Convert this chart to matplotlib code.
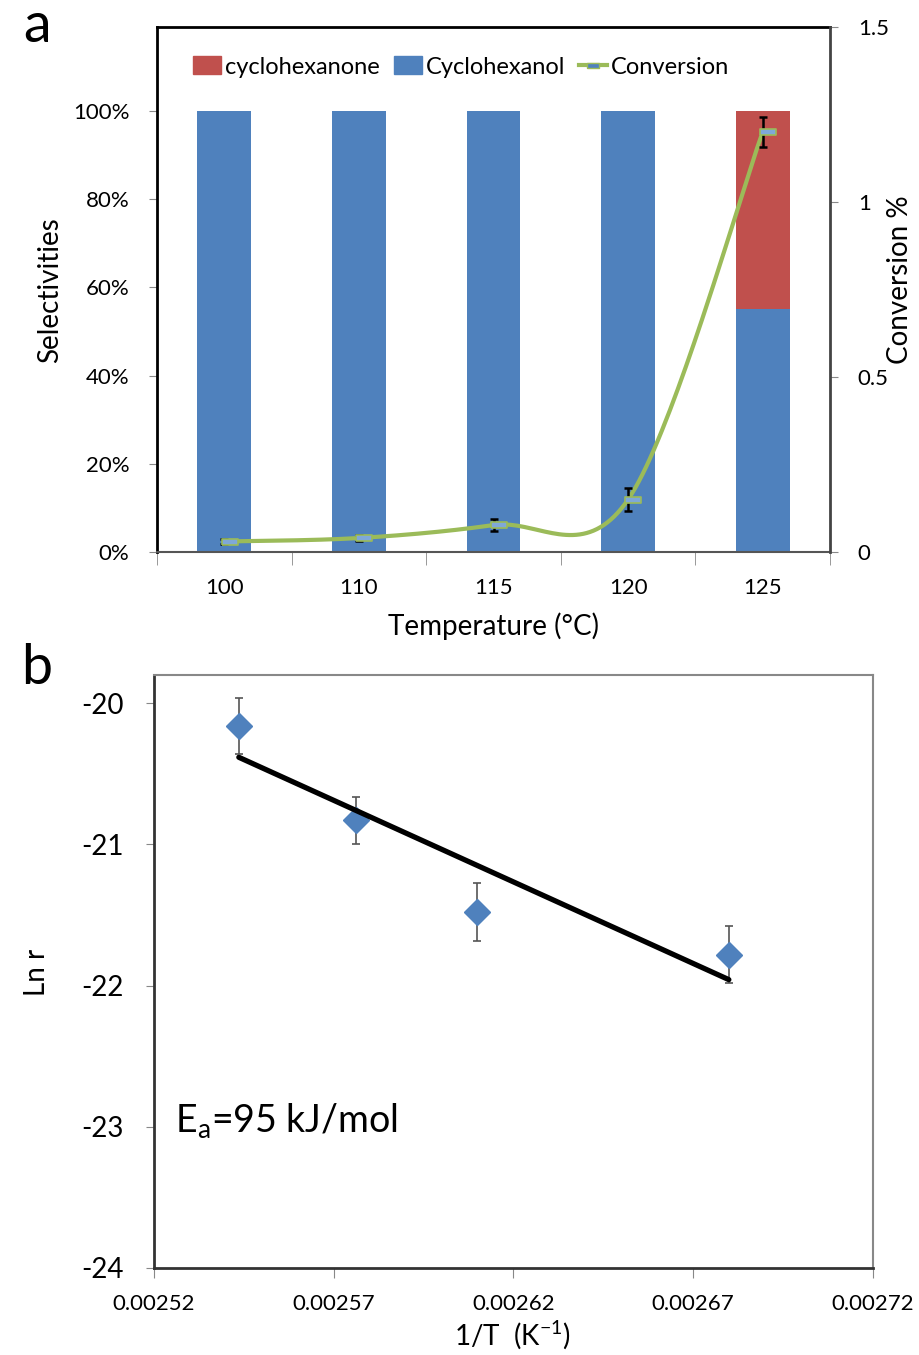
import numpy as np
import matplotlib
matplotlib.use("Agg")
import matplotlib.pyplot as plt
from matplotlib.patches import Patch
from matplotlib.lines import Line2D

plt.rcParams['font.family'] = ['Lato', 'DejaVu Sans']
plt.rcParams['mathtext.default'] = 'regular'

# ---------------- data ----------------
temperatures = ['100', '110', '115', '120', '125']
cyclohexanol = [100, 100, 100, 100, 55]        # %
cyclohexanone = [0, 0, 0, 0, 45]               # %
conversion = [0.03, 0.04, 0.077, 0.15, 1.20]   # %
conversion_err = [0.006, 0.008, 0.016, 0.032, 0.044]

inv_T = [0.0025436, 0.0025763, 0.0026099, 0.0026799]   # 1/T (K^-1)
ln_r = [-20.16, -20.83, -21.48, -21.78]
ln_r_err = [0.20, 0.167, 0.205, 0.20]

BLUE = '#4F81BD'
RED = '#C0504D'
GREEN = '#9BBB59'

W, H = 919, 1355
fig = plt.figure(figsize=(W / 100, H / 100), dpi=100)

def fx(px):
    return px / W

def fy(py):
    return 1 - py / H

# ---------------- panel a ----------------
axA = fig.add_axes([fx(157), fy(552), fx(830) - fx(157), fy(27) - fy(552)])
xpos = np.arange(len(temperatures))
axA.bar(xpos, cyclohexanol, width=0.4, color=BLUE, zorder=2)
axA.bar(xpos, cyclohexanone, bottom=cyclohexanol, width=0.4, color=RED, zorder=2)
axA.set_xlim(-0.5, len(temperatures) - 0.5)
axA.set_ylim(0, 119)
axA.set_yticks([0, 20, 40, 60, 80, 100])
axA.set_yticklabels([f'{v}%' for v in [0, 20, 40, 60, 80, 100]], fontsize=16)
axA.set_xticks(xpos)
axA.set_xticklabels(temperatures, fontsize=16)
axA.set_xticks(np.arange(-0.5, len(temperatures)), minor=True)
axA.tick_params(axis='x', which='major', length=0, pad=19)
axA.tick_params(axis='x', which='minor', length=9, color='#888888', direction='out')
axA.tick_params(axis='y', length=6, color='#888888', direction='out', pad=14)
for s in ['left', 'top']:
    axA.spines[s].set_color('black')
    axA.spines[s].set_linewidth(2)
axA.spines['bottom'].set_color('#555555')
axA.spines['bottom'].set_linewidth(1.5)
axA.spines['right'].set_visible(False)

axB = axA.twinx()
axB.set_ylim(0, 1.5)
axB.set_yticks([0, 0.5, 1, 1.5])
axB.set_yticklabels(['0', '0.5', '1', '1.5'], fontsize=16)
axB.tick_params(axis='y', length=6, color='#888888', direction='out', pad=14)
axB.spines['right'].set_color('#444444')
axB.spines['right'].set_linewidth(2)
for s in ['left', 'top', 'bottom']:
    axB.spines[s].set_visible(False)


def catmull_rom(xs, ys, n=40):
    P = np.column_stack([xs, ys]).astype(float)
    Pe = np.vstack([P[0], P, P[-1]])
    pts = []
    t = np.linspace(0, 1, n)[:, None]
    for i in range(len(P) - 1):
        p0, p1, p2, p3 = Pe[i], Pe[i + 1], Pe[i + 2], Pe[i + 3]
        c1 = p1 + (p2 - p0) / 6
        c2 = p2 - (p3 - p1) / 6
        seg = ((1 - t) ** 3) * p1 + 3 * ((1 - t) ** 2) * t * c1 + 3 * (1 - t) * t ** 2 * c2 + t ** 3 * p2
        pts.append(seg if i == 0 else seg[1:])
    pts = np.vstack(pts)
    return pts[:, 0], pts[:, 1]


sx, sy = catmull_rom(xpos, conversion)
axB.plot(sx, sy, color=GREEN, lw=3, zorder=3, solid_capstyle='round')
axB.errorbar(xpos, conversion, yerr=conversion_err, fmt='none', ecolor='black',
             elinewidth=1.8, capsize=3, capthick=1.8, zorder=4)
rect = [(-1, -0.45), (1, -0.45), (1, 0.45), (-1, 0.45), (-1, -0.45)]
axB.plot(xpos + 0.04, conversion, ls='none', marker=rect, markersize=11,
         markerfacecolor='#7FA8D8', markeredgecolor=GREEN, markeredgewidth=1.2, zorder=5)

handles = [Patch(facecolor=RED, edgecolor=RED),
           Patch(facecolor=BLUE, edgecolor=BLUE),
           Line2D([0], [0], color=GREEN, lw=3, marker=rect, markersize=8,
                  markerfacecolor=BLUE, markeredgecolor=GREEN)]
axA.legend(handles, ['cyclohexanone', 'Cyclohexanol', 'Conversion'], ncol=3,
           loc='center', bbox_to_anchor=((461 - 157) / 673, (552 - 67) / 525),
           frameon=False, fontsize=17, handlelength=1.2, handleheight=0.8,
           handletextpad=0.15, columnspacing=0.6)

fig.text(fx(50), fy(290), 'Selectivities', rotation=90, ha='center', va='center', fontsize=20)
fig.text(fx(900), fy(280), 'Conversion %', rotation=90, ha='center', va='center', fontsize=20)
fig.text(fx(493), fy(626), 'Temperature (°C)', ha='center', va='center', fontsize=20)
fig.text(fx(37), fy(27), 'a', ha='center', va='center', fontsize=40)

# ---------------- panel b ----------------
axC = fig.add_axes([fx(154), fy(1268), fx(873) - fx(154), fy(675) - fy(1268)])
axC.set_xlim(0.00252, 0.00272)
axC.set_ylim(-24, -19.8)
xt = [0.00252, 0.00257, 0.00262, 0.00267, 0.00272]
axC.set_xticks(xt)
axC.set_xticklabels([f'{v:.5f}' for v in xt], fontsize=16)
yt = [-24, -23, -22, -21, -20]
axC.set_yticks(yt)
axC.set_yticklabels([str(v) for v in yt], fontsize=20)
axC.tick_params(axis='x', length=7, color='#888888', direction='out', pad=12)
axC.tick_params(axis='y', length=6, color='#888888', direction='out', pad=16)
for s in ['left', 'bottom']:
    axC.spines[s].set_color('#333333')
    axC.spines[s].set_linewidth(2)
for s in ['top', 'right']:
    axC.spines[s].set_color('#888888')
    axC.spines[s].set_linewidth(1.5)

axC.errorbar(inv_T, ln_r, yerr=ln_r_err, fmt='D', color=BLUE, markersize=13,
             ecolor='#555555', elinewidth=1.2, capsize=3, capthick=1.2, zorder=3)
slope, intercept = np.polyfit(inv_T, ln_r, 1)
xl = np.array([min(inv_T), max(inv_T)])
axC.plot(xl, slope * xl + intercept, color='black', lw=3.8, solid_capstyle='round', zorder=4)

axC.text((175 - 154) / 719, (1268 - 1120) / 593, 'E$_a$=95 kJ/mol', transform=axC.transAxes,
         ha='left', va='center', fontsize=27)

fig.text(fx(37), fy(972), 'Ln r', rotation=90, ha='center', va='center', fontsize=20)
fig.text(fx(512), fy(1335), '1/T  (K$^{-1}$)', ha='center', va='center', fontsize=20)
fig.text(fx(37), fy(668), 'b', ha='center', va='center', fontsize=40)

fig.savefig('out.png', dpi=100)
